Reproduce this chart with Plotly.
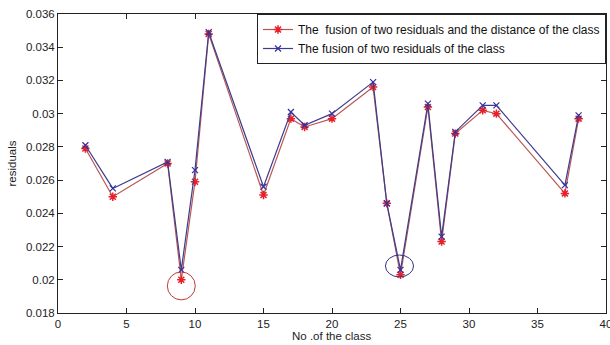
import plotly.graph_objects as go

classes = [2, 4, 8, 9, 10, 11, 15, 17, 18, 20, 23, 24, 25, 27, 28, 29, 31, 32, 37, 38]
fusion_distance = [0.0279, 0.0250, 0.0270, 0.0200, 0.0259, 0.0348, 0.0251, 0.0297, 0.0292, 0.0297,
                   0.0316, 0.0246, 0.0203, 0.0304, 0.0223, 0.0288, 0.0302, 0.0300, 0.0252, 0.0297]
fusion_only = [0.0281, 0.0255, 0.0271, 0.0206, 0.0266, 0.0349, 0.0256, 0.0301, 0.0293, 0.0300,
               0.0319, 0.0246, 0.0206, 0.0306, 0.0226, 0.0289, 0.0305, 0.0305, 0.0257, 0.0299]

x_ticks = [0, 5, 10, 15, 20, 25, 30, 35, 40]
y_ticks = [0.018, 0.02, 0.022, 0.024, 0.026, 0.028, 0.03, 0.032, 0.034, 0.036]
y_tick_labels = ["0.018", "0.02", "0.022", "0.024", "0.026", "0.028", "0.03", "0.032", "0.034", "0.036"]

names = ["The\u00a0 fusion of two residuals and the distance of the class",
         "The fusion of two residuals of the class"]
x_title = "No .of the class"
y_title = "residuals"

FONT = "Liberation Sans, Arial"

fig = go.Figure()
fig.add_trace(go.Scatter(
    x=classes, y=fusion_distance, mode="lines+markers", name=names[0],
    line=dict(color="#bb5555", width=1.2),
    marker=dict(symbol="asterisk-open", size=7, color="#e8202a", line=dict(width=1.5, color="#e8202a")),
))
fig.add_trace(go.Scatter(
    x=classes, y=fusion_only, mode="lines+markers", name=names[1],
    line=dict(color="#3c3c8c", width=1.2),
    marker=dict(symbol="x-thin-open", size=6, color="#3030a0", line=dict(width=1.2, color="#3030a0")),
))

# highlight circles
fig.add_shape(type="circle", xref="x", yref="y", x0=7.98, x1=10.02, y0=0.01879, y1=0.02047,
              line=dict(color="#c0393a", width=1))
fig.add_shape(type="circle", xref="x", yref="y", x0=23.9, x1=25.95, y0=0.02017, y1=0.02149,
              line=dict(color="#33337f", width=1))

axis_common = dict(
    showline=True, linecolor="#222", linewidth=1, mirror="ticks",
    ticks="inside", ticklen=5, tickcolor="#222", showgrid=False, zeroline=False,
    automargin=False, ticklabeloverflow="allow",
    tickfont=dict(family=FONT, size=11.5, color="#222"),
)
fig.update_xaxes(range=[0, 40], tickvals=x_ticks, **axis_common)
fig.update_yaxes(range=[0.018, 0.036], tickvals=y_ticks, ticktext=y_tick_labels, **axis_common)

fig.add_annotation(text=x_title, xref="paper", yref="paper", x=0.5, y=-0.077,
                   xanchor="center", yanchor="middle", showarrow=False,
                   font=dict(family=FONT, size=11.5, color="#222"))
fig.add_annotation(text=y_title, xref="paper", yref="paper", x=-0.084, y=0.5,
                   xanchor="center", yanchor="middle", showarrow=False, textangle=-90,
                   font=dict(family=FONT, size=11.5, color="#222"))

fig.update_layout(
    width=610, height=345,
    margin=dict(l=58, r=4, t=14, b=32, autoexpand=False),
    plot_bgcolor="white", paper_bgcolor="white",
    font=dict(family=FONT, size=11.5, color="#111"),
    legend=dict(x=1, y=1, xanchor="right", yanchor="top", bgcolor="white",
                bordercolor="#222", borderwidth=1, font=dict(family=FONT, size=12),
                tracegroupgap=0, itemwidth=30),
    showlegend=True,
)

fig.write_html("out.html", config={"displayModeBar": False},
               post_script="document.body.style.margin='0';document.body.style.overflow='hidden';")
